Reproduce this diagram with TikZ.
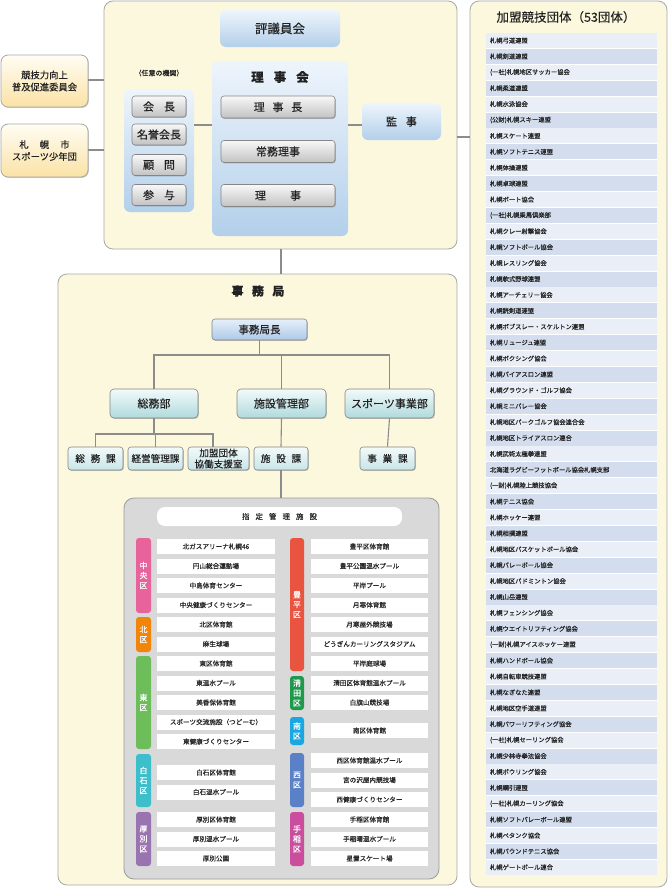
\documentclass[tikz,border=0pt]{standalone}
\usepackage{fontspec}
\setmainfont{Noto Sans CJK JP}[FakeBold=0.25]
\usetikzlibrary{shadows}
\definecolor{cream}{HTML}{FCF8DE}
\definecolor{panelborder}{HTML}{A8A8A8}
\definecolor{rowA}{HTML}{E9EEF7}
\definecolor{rowB}{HTML}{D3DDED}
\definecolor{facgray}{HTML}{D9D9D9}
\definecolor{facborder}{HTML}{9A9A9A}
\definecolor{blueT}{HTML}{EEF5FC}
\definecolor{blueB}{HTML}{B3CFEA}
\definecolor{btnT}{HTML}{F8F8F8}
\definecolor{btnB}{HTML}{C2C2C2}
\definecolor{btnborder}{HTML}{858585}
\definecolor{tealT}{HTML}{F3FAFA}
\definecolor{tealB}{HTML}{B0DADD}
\definecolor{chiefT}{HTML}{E6F0FA}
\definecolor{chiefB}{HTML}{AEC8E6}
\definecolor{yelT}{HTML}{FFFDF3}
\definecolor{yelB}{HTML}{FBE2A6}
\definecolor{linec}{HTML}{8C8C8C}
\definecolor{txt}{HTML}{222222}
\definecolor{cChuo}{HTML}{E8639C}
\definecolor{cKita}{HTML}{F0850A}
\definecolor{cHigashi}{HTML}{6DBE5B}
\definecolor{cShiroishi}{HTML}{3DBFCB}
\definecolor{cAtsubetsu}{HTML}{9A73B1}
\definecolor{cToyohira}{HTML}{E8543F}
\definecolor{cKiyota}{HTML}{1F9A4C}
\definecolor{cMinami}{HTML}{1AA7E1}
\definecolor{cNishi}{HTML}{5A80C7}
\definecolor{cTeine}{HTML}{CB4E9E}
\begin{document}
\begin{tikzpicture}[x=1pt,y=-1pt,
  every node/.style={inner sep=0pt, text=txt},
  panel/.style={draw=panelborder, fill=cream, rounded corners=9pt, line width=0.8pt},
  shad/.style={drop shadow={shadow xshift=0.8pt, shadow yshift=-0.9pt, opacity=0.22, fill=black}},
  bluebox/.style={top color=blueT, bottom color=blueB, rounded corners=6pt},
  btn/.style={shad, top color=btnT, bottom color=btnB, draw=btnborder, line width=0.6pt, rounded corners=3pt, font=\fontsize{11}{13}\selectfont},
  yelbox/.style={shad, top color=yelT, bottom color=yelB, draw=panelborder, line width=0.8pt, rounded corners=7pt, align=center, font=\fontsize{9.3}{12}\selectfont},
  chief/.style={shad, top color=chiefT, bottom color=chiefB, draw=btnborder, line width=0.6pt, rounded corners=3pt, font=\fontsize{10.5}{12}\selectfont},
  dept/.style={shad, top color=tealT, bottom color=tealB, draw=btnborder, line width=0.6pt, rounded corners=4pt, font=\fontsize{11}{13}\selectfont},
  sect/.style={shad, top color=tealT, bottom color=tealB!70, draw=btnborder, line width=0.6pt, rounded corners=3pt, align=center, font=\fontsize{9.6}{10.5}\selectfont},
  conn/.style={draw=linec, line width=1.1pt},
  listrow/.style={minimum width=171pt, minimum height=15pt, text width=163pt, inner xsep=4pt, align=left, font=\fontsize{6.3}{7}\selectfont},
  fac/.style={fill=white, minimum height=15pt, font=\fontsize{6.6}{7}\selectfont, text=black!85},
  facL/.style={fac, minimum width=118pt},
  facR/.style={fac, minimum width=117pt},
  bar/.style={rounded corners=3pt, text=white, align=center, font=\fontsize{8}{10}\selectfont},
  barL/.style={bar, minimum width=15pt},
  barR/.style={bar, minimum width=14pt}
]
\useasboundingbox (0,0) rectangle (668,889);
\fill[white] (0,0) rectangle (668,889);

% ---------- top panel ----------
\node[panel, minimum width=353pt, minimum height=248pt] (top) at (280.5,125) {};
\node[yelbox, minimum width=87pt, minimum height=52pt] (kyogi) at (44.5,81) {競技力向上\\普及促進委員会};
\node[yelbox, minimum width=87pt, minimum height=53pt] (shonen) at (44.5,150.5) {札\hspace{1.2em}幌\hspace{1.2em}市\\スポーツ少年団};
\draw[conn] (kyogi.east |- 0,80) -- (top.west |- 0,80);
\draw[conn] (shonen.east |- 0,150) -- (top.west |- 0,150);

\node[bluebox, minimum width=120pt, minimum height=37pt, font=\fontsize{12.5}{14}\selectfont] (hyogi) at (280,28.5) {評議員会};
\node[font=\fontsize{7}{8}\selectfont] (nini) at (159,73) {（任意の機関）};
\node[bluebox, minimum width=70pt, minimum height=123pt] (opt) at (159,150.5) {};
\node[btn, minimum width=54pt, minimum height=21pt] (kaicho) at (159,106.5) {会\hspace{0.9em}長};
\node[btn, minimum width=54pt, minimum height=21pt] (meiyo) at (159,134.5) {名誉会長};
\node[btn, minimum width=54pt, minimum height=21pt] (komon) at (159,165) {顧\hspace{0.9em}問};
\node[btn, minimum width=54pt, minimum height=21pt] (sanyo) at (159,195) {参\hspace{0.9em}与};

\node[bluebox, minimum width=136pt, minimum height=175pt] (rijikai) at (280,148.5) {};
\node[font=\fontsize{12.5}{14}\selectfont\bfseries] (rijikaiT) at (280,77) {理\hspace{0.8em}事\hspace{0.8em}会};
\node[btn, minimum width=114pt, minimum height=22pt] (rijicho) at (278,107) {理\hspace{0.7em}事\hspace{0.7em}長};
\node[btn, minimum width=114pt, minimum height=22pt] (jomu) at (278,151.5) {常務理事};
\node[btn, minimum width=114pt, minimum height=22pt] (riji) at (278,195.5) {理\hspace{2.2em}事};

\node[bluebox, minimum width=79pt, minimum height=37pt, font=\fontsize{11}{13}\selectfont] (kanji) at (401.5,121.5) {監\hspace{0.8em}事};
\draw[conn] (opt.east |- 0,125) -- (rijikai.west |- 0,125);
\draw[conn] (rijikai.east |- 0,125) -- (kanji.west |- 0,125);

% ---------- right panel ----------
\node[panel, minimum width=197pt, minimum height=886pt] (kamei) at (568.5,444) {};
\draw[conn] (top.east |- 0,137) -- (kamei.west |- 0,137);
\node[font=\fontsize{12.5}{14}\selectfont] (kameiT) at (566,17) {加盟競技団体（53団体）};
\fill[white] (486,33) rectangle (657,875);
\foreach \t [count=\i] in {札幌弓道連盟,札幌剣道連盟,{(一社)札幌地区サッカー協会},札幌柔道連盟,札幌水泳協会,{(公財)札幌スキー連盟},札幌スケート連盟,札幌ソフトテニス連盟,札幌体操連盟,札幌卓球連盟,札幌ボート協会,{(一社)札幌乗馬倶楽部},札幌クレー射撃協会,札幌ソフトボール協会,札幌レスリング協会,札幌軟式野球連盟,札幌アーチェリー協会,札幌銃剣道連盟,札幌ボブスレー・スケルトン連盟,札幌リュージュ連盟,札幌ボクシング協会,札幌バイアスロン連盟,札幌グラウンド・ゴルフ協会,札幌ミニバレー協会,札幌地区パークゴルフ協会連合会,札幌地区トライアスロン連合,札幌武術太極拳連盟,北海道ラグビーフットボール協会札幌支部,{(一財)札幌陸上競技協会},札幌テニス協会,札幌ホッケー連盟,札幌相撲連盟,札幌地区バスケットボール協会,札幌バレーボール協会,札幌地区バドミントン協会,札幌山岳連盟,札幌フェンシング協会,札幌ウエイトリフティング協会,{(一財)札幌アイスホッケー連盟},札幌ハンドボール協会,札幌自転車競技連盟,札幌なぎなた連盟,札幌地区空手道連盟,札幌パワーリフティング協会,{(一社)札幌セーリング協会},札幌少林寺拳法協会,札幌ボウリング協会,札幌綱引連盟,{(一社)札幌カーリング協会},札幌ソフトバレーボール連盟,札幌ペタンク協会,札幌バウンドテニス協会,札幌ゲートボール連合} {
  \pgfmathsetmacro\yc{40.5+(\i-1)*15.9}
  \ifodd\i \def\rc{rowA}\else\def\rc{rowB}\fi
  \node[listrow, fill=\rc] (r\i) at (571.5,\yc) {\t};
}

% ---------- 事務局 panel ----------
\node[panel, minimum width=399pt, minimum height=611pt] (jimu) at (257.5,579.5) {};
\draw[conn] (top.south -| 281,0) -- (jimu.north -| 281,0);
\node[font=\fontsize{12}{14}\selectfont\bfseries] (jimuT) at (258,291) {事\hspace{0.7em}務\hspace{0.7em}局};
\node[chief, minimum width=95pt, minimum height=21pt] (chief) at (259.5,329.5) {事務局長};
\node[dept, minimum width=88pt, minimum height=29pt] (somu) at (154,403.5) {総務部};
\node[dept, minimum width=89pt, minimum height=29pt] (shisetsu) at (281.5,403.5) {施設管理部};
\node[dept, minimum width=89pt, minimum height=29pt] (sports) at (389.5,403.5) {スポーツ事業部};
\node[sect, minimum width=55pt, minimum height=23pt] (ka1) at (95.5,458.5) {総\hspace{0.6em}務\hspace{0.6em}課};
\node[sect, minimum width=55pt, minimum height=23pt] (ka2) at (155.5,458.5) {経営管理課};
\node[sect, minimum width=61pt, minimum height=23pt, font=\fontsize{9.6}{11}\selectfont] (ka3) at (218.5,458.5) {加盟団体\\協働支援室};
\node[sect, minimum width=54pt, minimum height=23pt] (ka4) at (281,458.5) {施\hspace{0.6em}設\hspace{0.6em}課};
\node[sect, minimum width=55pt, minimum height=23pt] (ka5) at (387.5,458.5) {事\hspace{0.6em}業\hspace{0.6em}課};

\draw[conn] (chief.south) -- (chief.south |- 0,355);
\draw[conn] (somu.north) -- (somu.north |- 0,355) -- (sports.north |- 0,355) -- (sports.north);
\draw[conn] (shisetsu.north) -- (shisetsu.north |- 0,355);
\draw[conn] (somu.south) -- (somu.south |- 0,434);
\draw[conn] (ka1.north) -- (ka1.north |- 0,434) -- ([xshift=-5.5pt]ka3.north |- 0,434) -- ([xshift=-5.5pt]ka3.north);
\draw[conn] (ka2.north) -- (ka2.north |- 0,434);
\draw[conn] (shisetsu.south) -- (ka4.north);
\draw[conn] (sports.south) -- (ka5.north);

% ---------- facilities ----------
\node[draw=facborder, fill=facgray, rounded corners=10pt, line width=0.8pt, minimum width=315pt, minimum height=381pt] (facp) at (281.5,688.5) {};
\draw[conn] (ka4.south) -- (ka4.south |- facp.north);
\node[fill=white, rounded corners=8pt, minimum width=245pt, minimum height=19pt, font=\fontsize{7.5}{9}\selectfont] (facT) at (279.5,516.5) {指\hspace{0.8em}定\hspace{0.8em}管\hspace{0.8em}理\hspace{0.8em}施\hspace{0.8em}設};

% district bars
\node[barL, fill=cChuo, minimum height=75pt] (dChuo) at (143.5,575.5) {中\\央\\区};
\node[barL, fill=cKita, minimum height=35pt] (dKita) at (143.5,634.5) {北\\区};
\node[barL, fill=cHigashi, minimum height=93pt] (dHigashi) at (143.5,702.5) {東\\区};
\node[barL, fill=cShiroishi, minimum height=53pt] (dShiroishi) at (143.5,780.5) {白\\石\\区};
\node[barL, fill=cAtsubetsu, minimum height=54pt] (dAtsubetsu) at (143.5,839) {厚\\別\\区};
\node[barR, fill=cToyohira, minimum height=133pt] (dToyohira) at (297,604.5) {豊\\平\\区};
\node[barR, fill=cKiyota, minimum height=34pt] (dKiyota) at (297,693) {清\\田\\区};
\node[barR, fill=cMinami, minimum height=28pt] (dMinami) at (297,731) {南\\区};
\node[barR, fill=cNishi, minimum height=54pt] (dNishi) at (297,780) {西\\区};
\node[barR, fill=cTeine, minimum height=54pt] (dTeine) at (297,839) {手\\稲\\区};

% left facilities
\node[facL] (f1) at (216,546.5) {北ガスアリーナ札幌46};
\node[facL] (f2) at (216,566) {円山総合運動場};
\node[facL] (f3) at (216,585.5) {中島体育センター};
\node[facL] (f4) at (216,605) {中央健康づくりセンター};
\node[facL] (f5) at (216,624.5) {北区体育館};
\node[facL] (f6) at (216,644) {麻生球場};
\node[facL] (f7) at (216,663.5) {東区体育館};
\node[facL] (f8) at (216,683) {東温水プール};
\node[facL] (f9) at (216,702.5) {美香保体育館};
\node[facL] (f10) at (216,722) {スポーツ交流施設（つどーむ）};
\node[facL] (f11) at (216,741.5) {東健康づくりセンター};
\node[facL] (f12) at (216,772.5) {白石区体育館};
\node[facL] (f13) at (216,792) {白石温水プール};
\node[facL] (f14) at (216,819.5) {厚別区体育館};
\node[facL] (f15) at (216,839) {厚別温水プール};
\node[facL] (f16) at (216,858.5) {厚別公園};

% right facilities
\node[facR] (g1) at (369.5,546.5) {豊平区体育館};
\node[facR] (g2) at (369.5,566) {豊平公園温水プール};
\node[facR] (g3) at (369.5,585.5) {平岸プール};
\node[facR] (g4) at (369.5,605) {月寒体育館};
\node[facR] (g5) at (369.5,624.5) {月寒屋外競技場};
\node[facR] (g6) at (369.5,644) {どうぎんカーリングスタジアム};
\node[facR] (g7) at (369.5,663.5) {平岸庭球場};
\node[facR] (g8) at (369.5,683) {清田区体育館温水プール};
\node[facR] (g9) at (369.5,702.5) {白旗山競技場};
\node[facR] (g10) at (369.5,730.5) {南区体育館};
\node[facR] (g11) at (369.5,760.5) {西区体育館温水プール};
\node[facR] (g12) at (369.5,780) {宮の沢屋内競技場};
\node[facR] (g13) at (369.5,799.5) {西健康づくりセンター};
\node[facR] (g14) at (369.5,819.5) {手稲区体育館};
\node[facR] (g15) at (369.5,839) {手稲曙温水プール};
\node[facR] (g16) at (369.5,858.5) {星置スケート場};
\end{tikzpicture}
\end{document}
